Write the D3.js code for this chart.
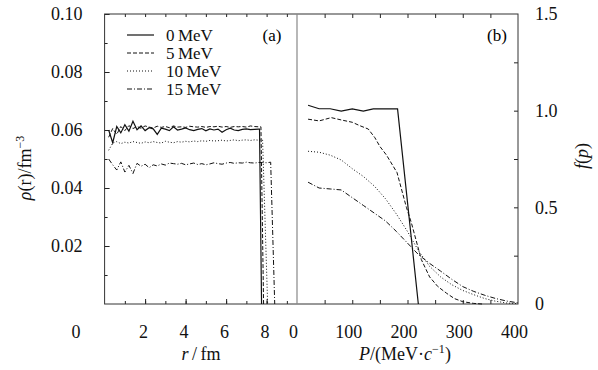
<!DOCTYPE html>
<html>
<head>
<meta charset="utf-8">
<script src="https://cdn.jsdelivr.net/npm/d3@7"></script>
<style>
  body { margin: 0; background: #fff; }
  svg { font-family: "Liberation Serif", "Times New Roman", serif; }
</style>
</head>
<body>
<svg id="chart" width="598" height="370"></svg>
<script>
// ---- data ----
const rGrid = [0.2,0.4,0.6,0.8,1.0,1.2,1.4,1.6,1.8,2.0,2.2,2.4,2.6,2.8,3.0,3.2,3.4,3.6,3.8,4.0,
  4.2,4.4,4.6,4.8,5.0,5.2,5.4,5.6,5.8,6.0,6.2,6.4,6.6,6.8,7.0,7.2,7.4,7.6];

const rho0 = [0.0600,0.0556,0.0612,0.0590,0.0618,0.0596,0.0630,0.0601,0.0614,0.0598,0.0608,0.0604,0.0585,0.0606,
  0.0603,0.0598,0.0611,0.0600,0.0603,0.0607,0.0601,0.0598,0.0602,0.0605,0.0597,0.0604,0.0600,0.0603,0.0592,0.0601,
  0.0606,0.0600,0.0598,0.0602,0.0604,0.0601,0.0602,0.0603];
const rho0Tail = [[7.65,0.0603],[7.75,0]];

const rho5 = [0.0575,0.0605,0.0585,0.0612,0.0598,0.0615,0.0605,0.0612,0.0606,0.0614,0.0610,0.0607,0.0613,0.0609,
  0.0612,0.0608,0.0614,0.0610,0.0611,0.0609,0.0613,0.0611,0.0610,0.0612,0.0609,0.0612,0.0611,0.0613,0.0610,0.0612,
  0.0609,0.0612,0.0611,0.0612,0.0610,0.0614,0.0612,0.0611];
const rho5Tail = [[7.72,0.0611],[7.85,0]];

const rho10 = [0.0530,0.0555,0.0560,0.0553,0.0558,0.0555,0.0560,0.0557,0.0554,0.0559,0.0556,0.0560,0.0557,0.0555,
  0.0561,0.0558,0.0556,0.0560,0.0558,0.0561,0.0559,0.0562,0.0560,0.0563,0.0561,0.0564,0.0562,0.0563,0.0565,0.0562,
  0.0564,0.0566,0.0563,0.0565,0.0566,0.0564,0.0566,0.0565];
const rho10Tail = [[7.8,0.0566],[8.05,0]];

const rho15 = [0.0500,0.0480,0.0462,0.0490,0.0455,0.0478,0.0450,0.0485,0.0475,0.0482,0.0470,0.0480,0.0476,0.0483,
  0.0479,0.0486,0.0484,0.0482,0.0485,0.0480,0.0483,0.0486,0.0481,0.0484,0.0480,0.0483,0.0487,0.0484,0.0482,0.0486,
  0.0488,0.0485,0.0487,0.0486,0.0489,0.0487,0.0486,0.0488];
const rho15Tail = [[7.8,0.0488],[8.0,0.0487],[8.2,0.0489],[8.4,0]];

const f0 = [[20,1.028],[40,1.010],[60,1.010],[80,0.998],[100,1.009],[120,0.998],[138,1.009],[162,1.009],[182,1.009],[219.6,0]];
const f5 = [[20,0.956],[40,0.947],[62,0.964],[80,0.952],[100,0.940],[114,0.922],[129,0.905],[141,0.860],[150,0.815],
  [162,0.770],[181,0.680],[198,0.500],[207,0.420],[225,0.230],[240,0.140],[255,0.090],[271,0.055],[285,0.028],[300,0.012],[320,0.003],[335,0]];
const f10 = [[20,0.790],[40,0.785],[60,0.770],[80,0.745],[100,0.700],[120,0.660],[140,0.610],[160,0.545],[180,0.465],
  [200,0.375],[220,0.275],[240,0.195],[260,0.140],[280,0.100],[300,0.070],[320,0.048],[340,0.028],[360,0.014],[380,0.005],[400,0.002]];
const f15 = [[20,0.630],[40,0.600],[60,0.595],[80,0.590],[100,0.550],[120,0.510],[140,0.470],[160,0.430],[180,0.375],
  [200,0.315],[220,0.255],[240,0.210],[260,0.170],[280,0.128],[300,0.090],[320,0.065],[340,0.045],[360,0.028],[380,0.015],[400,0.006]];

const seriesNames = ["0\u2009MeV", "5\u2009MeV", "10\u2009MeV", "15\u2009MeV"];
const dashes = [null, "4,2", "1,2", "5,2,1,2"];
const rTicks = [2, 4, 6, 8];
const pTicks = [0, 100, 200, 300, 400];
const rhoTicks = [0.02, 0.04, 0.06, 0.08, 0.10];
const fTicks = [0, 0.5, 1.0, 1.5];

// ---- layout ----
const svg = d3.select("#chart");
const yTop = 14, yBottom = 304, xLeft = 104.6, xMid = 297, xRight = 518;

const xR = d3.scaleLinear().domain([0, 9.5]).range([xLeft, xMid]);
const yRho = d3.scaleLinear().domain([0, 0.1]).range([yBottom, yTop]);
const xP = d3.scaleLinear().domain([0, 400]).range([xMid, xRight]);
const yF = d3.scaleLinear().domain([0, 1.5]).range([yBottom, yTop]);

const fontSize = 18;

function styleAxis(g) {
  g.select(".domain").remove();
  g.selectAll("line").attr("stroke", "#222");
  g.selectAll("text").attr("font-size", fontSize).attr("fill", "#111")
    .attr("font-family", "Liberation Serif, serif");
}

// left panel axes
svg.append("g").attr("transform", `translate(${xLeft},0)`)
  .call(d3.axisLeft(yRho).tickValues(d3.range(1, 10).map(d => d / 100)).tickSize(-3).tickFormat(""))
  .call(styleAxis);
svg.append("g").attr("transform", `translate(${xLeft},0)`)
  .call(d3.axisLeft(yRho).tickValues(rhoTicks).tickSize(-5).tickPadding(22).tickFormat(d3.format(".2f")))
  .call(styleAxis);
svg.append("g").attr("transform", `translate(0,${yBottom})`)
  .call(d3.axisBottom(xR).tickValues(d3.range(1, 10)).tickSize(-3).tickFormat(""))
  .call(styleAxis);
svg.append("g").attr("transform", `translate(0,${yBottom})`)
  .call(d3.axisBottom(xR).tickValues(rTicks).tickSize(-5).tickPadding(21))
  .call(styleAxis)
  .selectAll("text").attr("dx", -2);
svg.append("g").attr("transform", `translate(0,${yTop})`)
  .call(d3.axisTop(xR).tickValues(d3.range(1, 10)).tickSize(-3).tickFormat(""))
  .call(styleAxis);

// right panel axes
svg.append("g").attr("transform", `translate(${xRight},0)`)
  .call(d3.axisRight(yF).tickValues(d3.range(0.25, 1.5, 0.25)).tickSize(-4).tickFormat(""))
  .call(styleAxis);
svg.append("g").attr("transform", `translate(${xRight},0)`)
  .call(d3.axisRight(yF).tickValues(fTicks).tickSize(0).tickPadding(17)
    .tickFormat(d => d === 0 ? "0" : d3.format(".1f")(d)))
  .call(styleAxis);
svg.append("g").attr("transform", `translate(0,${yBottom})`)
  .call(d3.axisBottom(xP).tickValues([50, 100, 150, 200, 250, 300, 350]).tickSize(-4).tickFormat(""))
  .call(styleAxis);
svg.append("g").attr("transform", `translate(0,${yBottom})`)
  .call(d3.axisBottom(xP).tickValues(pTicks).tickSize(0).tickPadding(21))
  .call(styleAxis)
  .selectAll("text").attr("dx", -4);
svg.append("g").attr("transform", `translate(0,${yTop})`)
  .call(d3.axisTop(xP).tickValues([50, 100, 150, 200, 250, 300, 350]).tickSize(-4).tickFormat(""))
  .call(styleAxis);

// stray "0" at lower left
svg.append("text").attr("x", 76).attr("y", 338).attr("text-anchor", "middle")
  .attr("font-size", fontSize).attr("fill", "#111").text("0");

// frame
svg.append("rect").attr("x", xLeft).attr("y", yTop).attr("width", xRight - xLeft).attr("height", yBottom - yTop)
  .attr("fill", "none").attr("stroke", "#333").attr("stroke-width", 1);
svg.append("line").attr("x1", xMid).attr("x2", xMid).attr("y1", yTop).attr("y2", yBottom)
  .attr("stroke", "#888").attr("stroke-width", 1.2);

// curves
const lineR = d3.line().x(d => xR(d[0])).y(d => yRho(d[1]));
const lineP = d3.line().x(d => xP(d[0])).y(d => yF(d[1]));

const rhoSeries = [
  rGrid.map((r, i) => [r, rho0[i]]).concat(rho0Tail),
  rGrid.map((r, i) => [r, rho5[i]]).concat(rho5Tail),
  rGrid.map((r, i) => [r, rho10[i]]).concat(rho10Tail),
  rGrid.map((r, i) => [r, rho15[i]]).concat(rho15Tail)
];
const fSeries = [f0, f5, f10, f15];

rhoSeries.forEach((s, i) => {
  svg.append("path").datum(s).attr("d", lineR)
    .attr("fill", "none").attr("stroke", "#111").attr("stroke-width", i === 0 ? 1.2 : 1)
    .attr("stroke-dasharray", dashes[i]);
});
fSeries.forEach((s, i) => {
  svg.append("path").datum(s).attr("d", lineP)
    .attr("fill", "none").attr("stroke", "#111").attr("stroke-width", i === 0 ? 1.2 : 1)
    .attr("stroke-dasharray", dashes[i]);
});

// legend
const legend = svg.append("g");
seriesNames.forEach((name, i) => {
  const y = 35 + i * 18;
  legend.append("line").attr("x1", 127).attr("x2", 154).attr("y1", y).attr("y2", y)
    .attr("stroke", "#111").attr("stroke-width", i === 0 ? 1.2 : 1).attr("stroke-dasharray", dashes[i]);
  legend.append("text").attr("x", 166).attr("y", y + 6).attr("font-size", 17).attr("fill", "#111").text(name);
});

// panel tags
svg.append("text").attr("x", 272).attr("y", 41).attr("text-anchor", "middle").attr("font-size", 17).text("(a)");
svg.append("text").attr("x", 497).attr("y", 41).attr("text-anchor", "middle").attr("font-size", 17).text("(b)");

// axis titles
const yt = svg.append("text").attr("transform", "translate(31,168) rotate(-90)")
  .attr("text-anchor", "middle").attr("font-size", 18).attr("fill", "#111");
yt.append("tspan").attr("font-style", "italic").text("ρ");
yt.append("tspan").text("(r)/fm");
yt.append("tspan").attr("font-size", 12).attr("dy", -7).text("−3");

const ft = svg.append("text").attr("transform", "translate(588,156) rotate(-90)")
  .attr("text-anchor", "middle").attr("font-size", 18).attr("fill", "#111");
ft.append("tspan").attr("font-style", "italic").text("f");
ft.append("tspan").text("(");
ft.append("tspan").attr("font-style", "italic").text("p");
ft.append("tspan").text(")");

const xt = svg.append("text").attr("x", 201).attr("y", 360).attr("text-anchor", "middle")
  .attr("font-size", 18).attr("fill", "#111");
xt.append("tspan").attr("font-style", "italic").text("r");
xt.append("tspan").text("\u2009/\u2009fm");

const pt = svg.append("text").attr("x", 405).attr("y", 360).attr("text-anchor", "middle")
  .attr("font-size", 18).attr("fill", "#111");
pt.append("tspan").attr("font-style", "italic").text("P");
pt.append("tspan").text("/(MeV·");
pt.append("tspan").attr("font-style", "italic").text("c");
pt.append("tspan").attr("font-size", 12).attr("dy", -7).text("−1");
pt.append("tspan").attr("dy", 7).text(")");
</script>
</body>
</html>
